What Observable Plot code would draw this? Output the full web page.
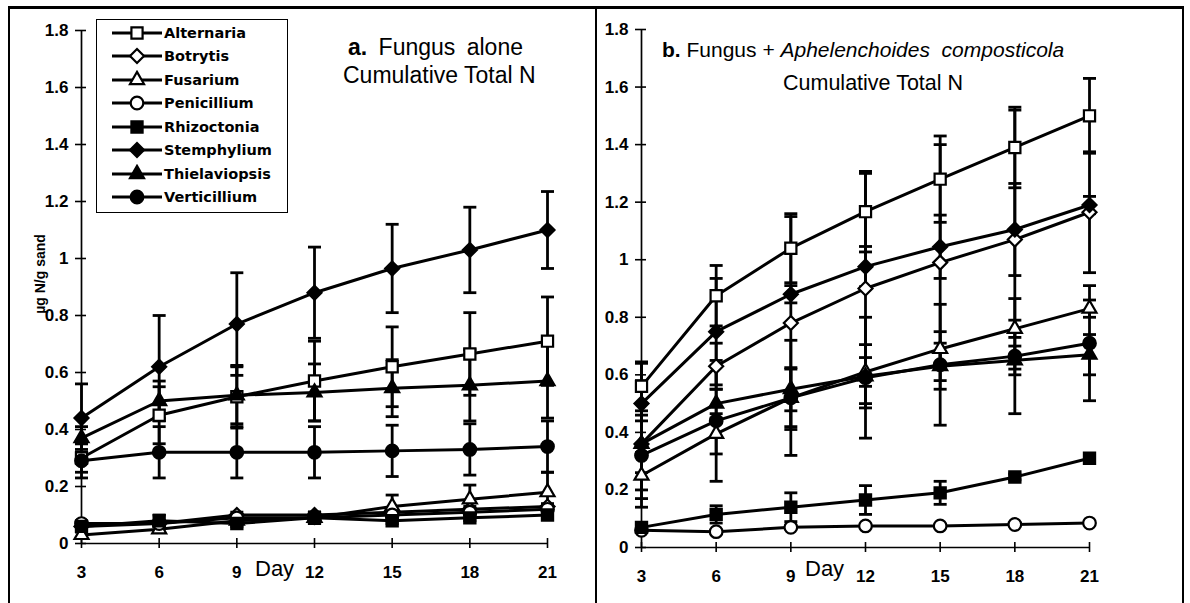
<!DOCTYPE html>
<html><head><meta charset="utf-8">
<script src="https://cdn.jsdelivr.net/npm/d3@7"></script>
<script src="https://cdn.jsdelivr.net/npm/@observablehq/plot@0.6"></script>
<style>
html,body{margin:0;padding:0;background:#fff;}
#chart{position:relative;width:1190px;height:603px;overflow:hidden;font-family:"Liberation Sans",Arial,sans-serif;color:#000;background:#fff;}
.panel{position:absolute;top:0;}
.border{position:absolute;background:#000;z-index:5;}
.t{position:absolute;white-space:nowrap;color:#000;z-index:3;}
.legend{position:absolute;left:96px;top:19px;width:192px;height:194px;box-sizing:border-box;border:1.5px solid #000;background:#fff;z-index:4;}
.legrow{position:absolute;left:0;height:20px;width:190px;}
.legrow svg{position:absolute;left:0;top:0;}
.legrow span{position:absolute;left:67px;top:0;line-height:20px;font-family:"DejaVu Sans",sans-serif;font-weight:bold;font-size:14.5px;}
</style></head>
<body><div id="chart"></div>
<script>
// ---- data ----
const days = [3, 6, 9, 12, 15, 18, 21];
const yTicks = [0, 0.2, 0.4, 0.6, 0.8, 1, 1.2, 1.4, 1.6, 1.8];
const yTickLabels = ["0", "0.2", "0.4", "0.6", "0.8", "1", "1.2", "1.4", "1.6", "1.8"];
const series = ["Alternaria", "Botrytis", "Fusarium", "Penicillium", "Rhizoctonia", "Stemphylium", "Thielaviopsis", "Verticillium"];
const symbols = ["square", "diamond2", "triangle", "circle", "square", "diamond2", "triangle", "circle"];
const fills = ["white", "white", "white", "white", "black", "black", "black", "black"];

// panel a: Fungus alone (means, one row per series in the order above)
const meansA = [
  [0.30, 0.45, 0.515, 0.57, 0.62, 0.665, 0.71],
  [0.06, 0.07, 0.10, 0.10, 0.11, 0.12, 0.13],
  [0.03, 0.05, 0.08, 0.09, 0.13, 0.155, 0.18],
  [0.07, 0.07, 0.09, 0.09, 0.10, 0.11, 0.12],
  [0.06, 0.08, 0.07, 0.09, 0.08, 0.09, 0.10],
  [0.44, 0.62, 0.77, 0.88, 0.965, 1.03, 1.10],
  [0.37, 0.50, 0.52, 0.53, 0.545, 0.555, 0.57],
  [0.29, 0.32, 0.32, 0.32, 0.325, 0.33, 0.34]
];
const errsA = [
  [0.05, 0.10, 0.11, 0.14, 0.14, 0.145, 0.155],
  [0.01, 0.01, 0.01, 0.01, 0.01, 0.01, 0.01],
  [0.01, 0.01, 0.01, 0.02, 0.04, 0.05, 0.07],
  [0.01, 0.01, 0.01, 0.01, 0.01, 0.01, 0.01],
  [0.01, 0.02, 0.01, 0.02, 0.01, 0.01, 0.01],
  [0.12, 0.18, 0.18, 0.16, 0.155, 0.15, 0.135],
  [0.04, 0.07, 0.10, 0.10, 0.10, 0.125, 0.13],
  [0.06, 0.09, 0.09, 0.09, 0.09, 0.09, 0.09]
];
// panel b: Fungus + Aphelenchoides composticola
const meansB = [
  [0.56, 0.875, 1.04, 1.167, 1.28, 1.39, 1.50],
  [0.36, 0.63, 0.78, 0.90, 0.99, 1.07, 1.165],
  [0.25, 0.395, 0.52, 0.61, 0.69, 0.76, 0.83],
  [0.06, 0.055, 0.07, 0.075, 0.075, 0.08, 0.085],
  [0.07, 0.115, 0.14, 0.165, 0.19, 0.245, 0.31],
  [0.50, 0.75, 0.88, 0.976, 1.045, 1.105, 1.19],
  [0.36, 0.50, 0.55, 0.595, 0.63, 0.65, 0.67],
  [0.32, 0.44, 0.52, 0.59, 0.635, 0.665, 0.71]
];
const errsB = [
  [0.085, 0.105, 0.12, 0.14, 0.15, 0.14, 0.13],
  [0.22, 0.08, 0.37, 0.40, 0.41, 0.45, 0.21],
  [0.08, 0.07, 0.10, 0.05, 0.06, 0.03, 0.03],
  [0.005, 0.005, 0.005, 0.005, 0.005, 0.005, 0.005],
  [0.01, 0.03, 0.05, 0.05, 0.04, 0.01, 0.01],
  [0.14, 0.185, 0.03, 0.07, 0.11, 0.16, 0.03],
  [0.10, 0.05, 0.075, 0.11, 0.08, 0.05, 0.07],
  [0.12, 0.21, 0.20, 0.21, 0.21, 0.20, 0.20]
];

// ---- helpers ----
function rows(means, errs) {
  return series.flatMap((s, i) => days.map((d, j) => ({series: s, k: i, day: d, v: means[i][j], e: errs[i][j]})));
}
const cap = {draw(ctx, size) { const r = Math.sqrt(size / Math.PI); ctx.moveTo(-r, 0); ctx.lineTo(r, 0); }};
const markR = sym => sym === "triangle" ? 5.2 : 6.3;

function panel(means, errs, m) {
  const data = rows(means, errs);
  const eb = data.filter(d => d.e > 0);
  return Plot.plot({
    width: m.width, height: 603,
    marginLeft: m.left, marginRight: m.right, marginTop: m.top, marginBottom: m.bottom,
    x: {domain: [days[0], days[days.length - 1]]},
    y: {domain: [yTicks[0], yTicks[yTicks.length - 1]]},
    style: {background: "transparent", fontFamily: "'Liberation Sans', Arial, sans-serif", fontSize: "17px", fontWeight: "bold", color: "black", overflow: "visible"},
    marks: [
      Plot.ruleX([days[0]], {stroke: "black", strokeWidth: 1.7}),
      Plot.ruleY([yTicks[0]], {stroke: "black", strokeWidth: 1.7}),
      Plot.axisY({ticks: yTicks, tickFormat: d => yTickLabels[yTicks.indexOf(d)], tickSize: 11, dx: 5, tickPadding: 7, strokeWidth: 1.6, label: null}),
      Plot.axisX({ticks: days, tickFormat: d => String(d), tickSize: 10, dy: -5, tickPadding: 17, strokeWidth: 1.6, label: null}),
      Plot.ruleX(eb, {x: "day", y1: d => d.v - d.e, y2: d => d.v + d.e, stroke: "black", strokeWidth: 2.8}),
      Plot.dot(eb, {x: "day", y: d => d.v + d.e, symbol: cap, r: 6.5, stroke: "black", fill: "none", strokeWidth: 2.8}),
      Plot.dot(eb, {x: "day", y: d => d.v - d.e, symbol: cap, r: 6.5, stroke: "black", fill: "none", strokeWidth: 2.8}),
      Plot.line(data, {x: "day", y: "v", z: "series", stroke: "black", strokeWidth: 3}),
      ...series.map((s, i) => Plot.dot(data.filter(d => d.k === i), {
        x: "day", y: "v", symbol: symbols[i], r: markR(symbols[i]), fill: fills[i], stroke: "black", strokeWidth: 2.2
      }))
    ]
  });
}

const chart = document.getElementById("chart");
const pa = panel(meansA, errsA, {width: 595, left: 81, right: 48, top: 30, bottom: 60});
pa.classList.add("panel"); pa.style.left = "0px";
chart.appendChild(pa);
const pb = panel(meansB, errsB, {width: 595, left: 46, right: 101, top: 29, bottom: 56});
pb.classList.add("panel"); pb.style.left = "595px";
chart.appendChild(pb);

// ---- frame ----
[[8, 6, 2, 597], [8, 6, 1176, 3], [595, 6, 2, 597], [1182, 6, 2, 597]].forEach(([l, t, w, h]) => {
  const b = document.createElement("div"); b.className = "border";
  Object.assign(b.style, {left: l + "px", top: t + "px", width: w + "px", height: h + "px"});
  chart.appendChild(b);
});

// ---- texts ----
function addText(html, css) {
  const d = document.createElement("div"); d.className = "t"; d.innerHTML = html;
  Object.assign(d.style, css); chart.appendChild(d); return d;
}
addText("<b>a.</b> Fungus alone", {left: "348px", top: "33px", fontSize: "23px", lineHeight: "28px", wordSpacing: "5px"});
addText("Cumulative Total N", {left: "343px", top: "61px", fontSize: "23px", lineHeight: "28px"});
addText("<b>b.</b> Fungus + <i>Aphelenchoides&nbsp; composticola</i>", {left: "662px", top: "37px", fontSize: "21px", lineHeight: "26px"});
addText("Cumulative Total N", {left: "783px", top: "70px", fontSize: "21.5px", lineHeight: "26px"});
addText("Day", {left: "255px", top: "558px", fontSize: "22px", lineHeight: "22px"});
addText("Day", {left: "805px", top: "558px", fontSize: "22px", lineHeight: "22px"});
addText("µg N/g sand", {left: "-10px", top: "266px", width: "100px", height: "16px", lineHeight: "16px", textAlign: "center",
  fontSize: "14px", fontWeight: "bold", transform: "rotate(-90deg)"});

// ---- legend ----
const leg = document.createElement("div"); leg.className = "legend"; chart.appendChild(leg);
const d3sym = {square: d3.symbolSquare, diamond2: d3.symbolDiamond2, triangle: d3.symbolTriangle, circle: d3.symbolCircle};
series.forEach((s, i) => {
  const row = document.createElement("div"); row.className = "legrow";
  row.style.top = (2.5 + i * 23.5) + "px";
  const svg = d3.create("svg").attr("width", 66).attr("height", 20);
  svg.append("line").attr("x1", 15).attr("x2", 65).attr("y1", 10).attr("y2", 10).attr("stroke", "black").attr("stroke-width", 2.8);
  const r = markR(symbols[i]);
  svg.append("path").attr("transform", "translate(40,10)")
    .attr("d", d3.symbol(d3sym[symbols[i]], Math.PI * r * r)())
    .attr("fill", fills[i]).attr("stroke", "black").attr("stroke-width", 2.2);
  row.appendChild(svg.node());
  const sp = document.createElement("span"); sp.textContent = s; row.appendChild(sp);
  leg.appendChild(row);
});
</script>
</body></html>
